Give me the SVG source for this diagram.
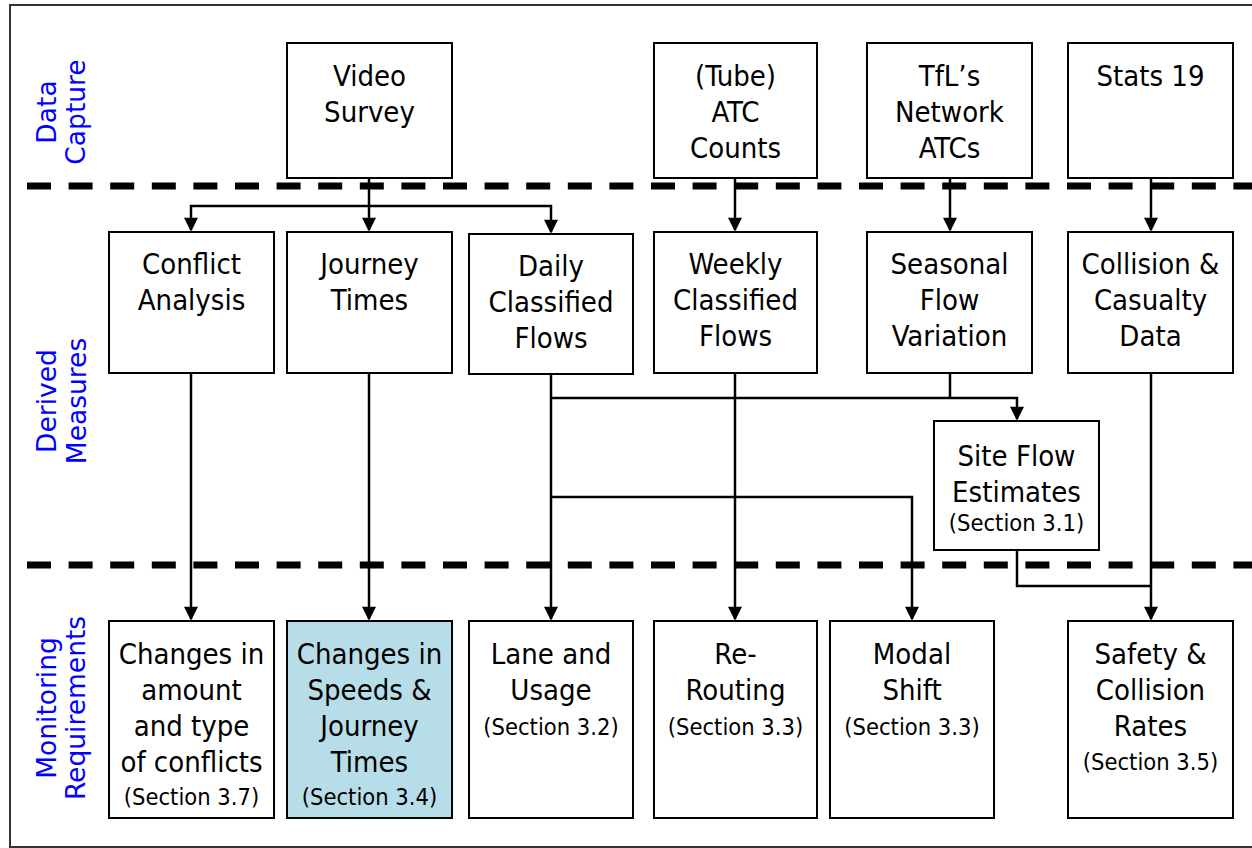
<svg xmlns="http://www.w3.org/2000/svg" width="1252" height="848" viewBox="0 0 1252 848">
<style>
.bx{fill:#fff;stroke:#000;stroke-width:2}
.hl{fill:#b7dee8}
.t{font-family:"DejaVu Sans Condensed","Liberation Sans",sans-serif;font-stretch:condensed;font-size:29px;fill:#000;text-anchor:middle}
.s{font-size:23.5px}
.lab{font-family:"DejaVu Sans",Verdana,sans-serif;font-size:26.5px;fill:#0000ff;text-anchor:middle}
.c{fill:none;stroke:#000;stroke-width:2.5}
.dash{stroke:#000;stroke-width:7;stroke-dasharray:24 17.6}
</style>
<defs>
<marker id="ah" viewBox="0 0 10 10" refX="8.75" refY="5" markerWidth="16" markerHeight="14" markerUnits="userSpaceOnUse" orient="auto">
<path d="M0,0 L10,5 L0,10 z" fill="#000"/>
</marker>
</defs>
<rect x="0" y="0" width="1252" height="848" fill="#fff"/>
<rect x="10" y="5" width="1300" height="842" fill="none" stroke="#333" stroke-width="2"/>

<g id="lanes">
<line class="dash" x1="27" y1="186" x2="1252" y2="186"/>
<line class="dash" x1="27" y1="565" x2="1252" y2="565"/>
<text class="lab" transform="translate(56,112) rotate(-90)">Data</text>
<text class="lab" transform="translate(85,112) rotate(-90)">Capture</text>
<text class="lab" transform="translate(56,401) rotate(-90)">Derived</text>
<text class="lab" transform="translate(86,401) rotate(-90)">Measures</text>
<text class="lab" transform="translate(56,708) rotate(-90)">Monitoring</text>
<text class="lab" transform="translate(85,708) rotate(-90)">Requirements</text>
</g>

<g id="connectors">
<path class="c" d="M369,178 V230" marker-end="url(#ah)"/>
<path class="c" d="M369,206 H191 V230" marker-end="url(#ah)"/>
<path class="c" d="M369,206 H551 V232" marker-end="url(#ah)"/>
<path class="c" d="M735,178 V230" marker-end="url(#ah)"/>
<path class="c" d="M950,178 V230" marker-end="url(#ah)"/>
<path class="c" d="M1151,178 V230" marker-end="url(#ah)"/>
<path class="c" d="M191,373 V619" marker-end="url(#ah)"/>
<path class="c" d="M369,373 V619" marker-end="url(#ah)"/>
<path class="c" d="M551,374 V619" marker-end="url(#ah)"/>
<path class="c" d="M551,398 H1017 V419" marker-end="url(#ah)"/>
<path class="c" d="M950,373 V398"/>
<path class="c" d="M551,497 H912 V619" marker-end="url(#ah)"/>
<path class="c" d="M735,373 V619" marker-end="url(#ah)"/>
<path class="c" d="M1151,373 V619" marker-end="url(#ah)"/>
<path class="c" d="M1017,550 V586 H1151"/>
</g>

<g id="video"><rect class="bx" x="287" y="43" width="165" height="135"/>
<text class="t" x="369.5" y="86">Video</text><text class="t" x="369.5" y="122">Survey</text></g>
<g id="tube"><rect class="bx" x="654" y="43" width="163" height="135"/>
<text class="t" x="735.5" y="86">(Tube)</text><text class="t" x="735.5" y="122">ATC</text><text class="t" x="735.5" y="158">Counts</text></g>
<g id="tfl"><rect class="bx" x="867" y="43" width="165" height="135"/>
<text class="t" x="949.5" y="86">TfL’s</text><text class="t" x="949.5" y="122">Network</text><text class="t" x="949.5" y="158">ATCs</text></g>
<g id="stats19"><rect class="bx" x="1068" y="43" width="165" height="135"/>
<text class="t" x="1150.5" y="86">Stats 19</text></g>

<g id="conflict"><rect class="bx" x="109" y="232" width="165" height="141"/>
<text class="t" x="191.5" y="274">Conflict</text><text class="t" x="191.5" y="310">Analysis</text></g>
<g id="journey"><rect class="bx" x="287" y="232" width="165" height="141"/>
<text class="t" x="369.5" y="274">Journey</text><text class="t" x="369.5" y="310">Times</text></g>
<g id="daily"><rect class="bx" x="469" y="234" width="164" height="140"/>
<text class="t" x="551" y="276">Daily</text><text class="t" x="551" y="312">Classified</text><text class="t" x="551" y="348">Flows</text></g>
<g id="weekly"><rect class="bx" x="654" y="232" width="163" height="141"/>
<text class="t" x="735.5" y="274">Weekly</text><text class="t" x="735.5" y="310">Classified</text><text class="t" x="735.5" y="346">Flows</text></g>
<g id="seasonal"><rect class="bx" x="867" y="232" width="165" height="141"/>
<text class="t" x="949.5" y="274">Seasonal</text><text class="t" x="949.5" y="310">Flow</text><text class="t" x="949.5" y="346">Variation</text></g>
<g id="collision"><rect class="bx" x="1068" y="232" width="165" height="141"/>
<text class="t" x="1150.5" y="274">Collision &amp;</text><text class="t" x="1150.5" y="310">Casualty</text><text class="t" x="1150.5" y="346">Data</text></g>

<g id="siteflow"><rect class="bx" x="934" y="421" width="165" height="129"/>
<text class="t" x="1016.5" y="466">Site Flow</text><text class="t" x="1016.5" y="502">Estimates</text><text class="t s" x="1016.5" y="531">(Section 3.1)</text></g>

<g id="conflicts-req"><rect class="bx" x="109" y="621" width="165" height="197"/>
<text class="t" x="191.5" y="664">Changes in</text><text class="t" x="191.5" y="700">amount</text><text class="t" x="191.5" y="736">and type</text><text class="t" x="191.5" y="772">of conflicts</text><text class="t s" x="191.5" y="805">(Section 3.7)</text></g>
<g id="speeds-req"><rect class="bx hl" x="287" y="621" width="165" height="197"/>
<text class="t" x="369.5" y="664">Changes in</text><text class="t" x="369.5" y="700">Speeds &amp;</text><text class="t" x="369.5" y="736">Journey</text><text class="t" x="369.5" y="772">Times</text><text class="t s" x="369.5" y="805">(Section 3.4)</text></g>
<g id="lane-req"><rect class="bx" x="469" y="621" width="164" height="197"/>
<text class="t" x="551" y="664">Lane and</text><text class="t" x="551" y="700">Usage</text><text class="t s" x="551" y="735">(Section 3.2)</text></g>
<g id="rerouting-req"><rect class="bx" x="654" y="621" width="163" height="197"/>
<text class="t" x="735.5" y="664">Re-</text><text class="t" x="735.5" y="700">Routing</text><text class="t s" x="735.5" y="735">(Section 3.3)</text></g>
<g id="modal-req"><rect class="bx" x="830" y="621" width="164" height="197"/>
<text class="t" x="912" y="664">Modal</text><text class="t" x="912" y="700">Shift</text><text class="t s" x="912" y="735">(Section 3.3)</text></g>
<g id="safety-req"><rect class="bx" x="1068" y="621" width="165" height="197"/>
<text class="t" x="1150.5" y="664">Safety &amp;</text><text class="t" x="1150.5" y="700">Collision</text><text class="t" x="1150.5" y="736">Rates</text><text class="t s" x="1150.5" y="770">(Section 3.5)</text></g>
</svg>
